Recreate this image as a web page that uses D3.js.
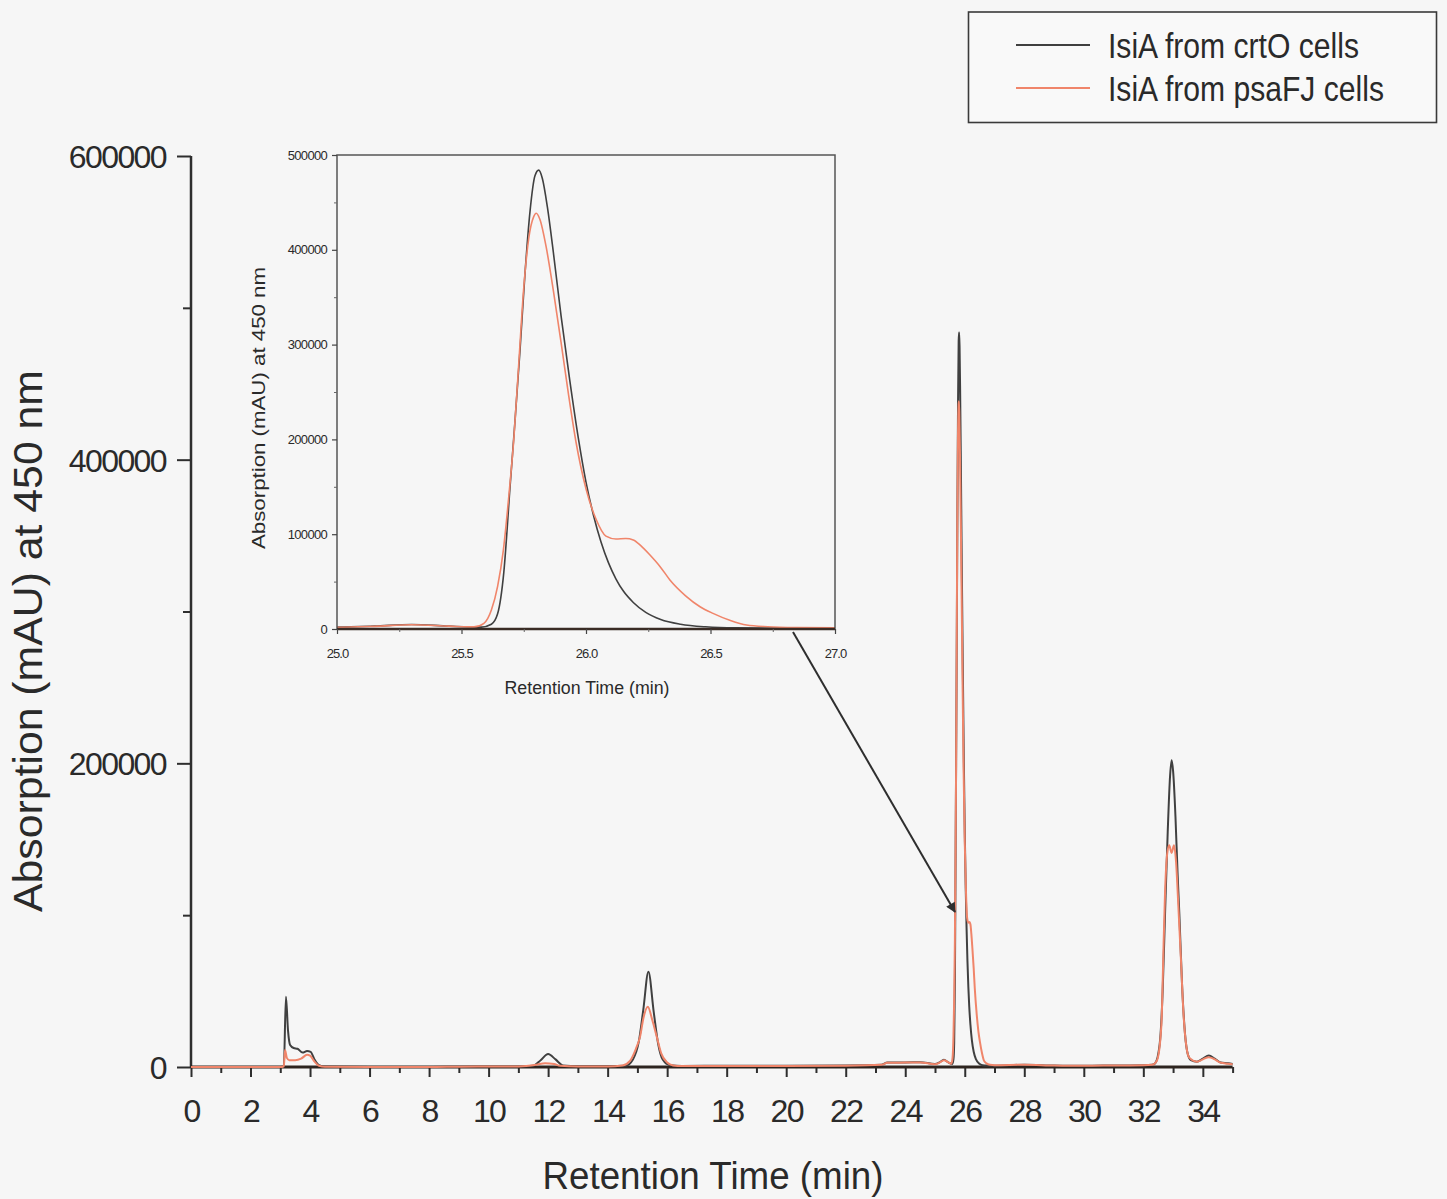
<!DOCTYPE html>
<html>
<head>
<meta charset="utf-8">
<script src="https://cdn.jsdelivr.net/npm/d3@7"></script>
<style>
  html, body { margin: 0; padding: 0; background: #f6f6f6; }
  svg { display: block; }
  text { font-family: "Liberation Sans", Arial, Helvetica, sans-serif; fill: #2a2a2a; }
</style>
</head>
<body>
<svg id="chart" width="1447" height="1199"></svg>
<script>
// HPLC traces, absorption at 450 nm, [retention time (min), mAU]
const crtO = [
  [0,0],[1,0],[2,0],[3,0],[3.12,500],[3.19,46300],[3.26,24000],[3.33,14500],[3.45,12500],
  [3.58,12000],[3.75,9500],[3.9,10500],[4.02,10000],[4.15,5000],[4.3,1200],[4.5,300],
  [6,0],[8,0],[9,200],[10,300],[11,400],[11.5,800],[11.75,4500],[12.0,8500],[12.25,5000],
  [12.5,1000],[13,500],[14,500],[14.6,800],[14.85,5000],[15.05,17000],[15.2,38000],
  [15.37,62800],[15.55,36000],[15.7,15000],[15.85,5000],[16.1,1200],[16.5,700],[18,800],
  [20,800],[22,1000],[23.2,1500],[23.4,3000],[24,3000],[24.5,3200],[25.0,2000],[25.15,3000],
  [25.3,4800],[25.45,3000],[25.58,2000],[25.62,5000],[25.645,16000],[25.67,60000],
  [25.695,150000],[25.715,220000],[25.735,294000],[25.755,375000],[25.775,440000],
  [25.795,478000],[25.81,484000],[25.825,475000],[25.845,445000],[25.87,395000],
  [25.9,330000],[25.935,262000],[25.97,200000],[26.0,155000],[26.03,120000],[26.06,92000],
  [26.09,70000],[26.12,53000],[26.15,40000],[26.19,28000],[26.24,17500],[26.3,10000],
  [26.38,5000],[26.48,2300],[26.6,1200],[26.8,1000],
  [27,900],[28,1500],[29,1000],[30,800],[31,1000],[32,1200],[32.3,1500],[32.4,2500],
  [32.55,15000],[32.65,50000],[32.73,101000],[32.82,155000],[32.9,192000],[32.95,202000],
  [33.0,195000],[33.08,165000],[33.15,128000],[33.21,101000],[33.3,55000],[33.4,22000],
  [33.5,8000],[33.6,4500],[33.8,3500],[34.0,5500],[34.2,7500],[34.4,5500],[34.6,3000],
  [34.85,2500],[35,2000]
];

const psaFJ = [
  [0,0],[1,0],[2,0],[3,0],[3.12,500],[3.16,11200],[3.22,6000],[3.3,4500],[3.5,4500],
  [3.7,5500],[3.9,8000],[4.0,7500],[4.15,3500],[4.3,800],[4.5,200],[6,0],[8,0],[9,200],
  [10,300],[11,400],[11.6,1500],[11.9,2500],[12.2,2000],[12.4,800],[13,400],[14,400],
  [14.5,1000],[14.75,4000],[14.95,12000],[15.09,20000],[15.2,32000],[15.35,39700],
  [15.5,31000],[15.65,20000],[15.8,9000],[16.0,3000],[16.2,1000],[16.5,600],[18,700],
  [20,700],[22,900],[23.2,1400],[23.4,2800],[24,2900],[24.5,3000],[25.0,1800],[25.15,2800],
  [25.3,4500],[25.45,3000],[25.55,2200],[25.59,6000],[25.62,20000],[25.645,45000],
  [25.668,83000],[25.69,140000],[25.71,200000],[25.73,280000],[25.75,360000],[25.77,412000],
  [25.79,435000],[25.80,438500],[25.815,432000],[25.84,403000],[25.87,355000],[25.9,302000],
  [25.93,247000],[25.96,197000],[26.0,148000],[26.04,116000],[26.08,98000],[26.12,95000],
  [26.16,95500],[26.19,94000],[26.22,88000],[26.257,78000],[26.3,65000],[26.337,51700],
  [26.4,35000],[26.458,23500],[26.51,16500],[26.58,9000],[26.645,4200],[26.73,2400],
  [26.85,1500],[27,1200],[28,1500],[29,1000],[30,800],[31,1000],[32,1200],[32.3,1500],
  [32.45,4000],[32.58,20000],[32.62,33000],[32.67,72500],[32.73,115000],[32.8,140000],
  [32.87,146000],[32.95,141000],[33.03,146000],[33.1,135000],[33.18,105000],[33.26,72500],
  [33.35,35000],[33.45,13000],[33.55,6000],[33.8,3500],[34.0,5000],[34.2,6500],[34.4,5000],
  [34.6,2800],[34.85,2200],[35,1800]
];

// axis ticks
const mainXMajor = d3.range(0, 35, 2);
const mainXMinor = d3.range(1, 36, 2);
const mainYMajor = [0, 200000, 400000, 600000];
const mainYMinor = [100000, 300000, 500000];
const insetXMajor = [25.0, 25.5, 26.0, 26.5, 27.0];
const insetXMinor = [25.25, 25.75, 26.25, 26.75];
const insetYMajor = [0, 100000, 200000, 300000, 400000, 500000];
const insetYMinor = [50000, 150000, 250000, 350000, 450000];

const seriesNames = ["IsiA from crtO cells", "IsiA from psaFJ cells"];
const seriesColors = ["#404040", "#f0856a"];

const svg = d3.select("#chart");
const ink = "#2e2e2e";

// ---------- main panel ----------
const x = d3.scaleLinear().domain([0, 35]).range([191, 1232.6]);
const y = d3.scaleLinear().domain([0, 600000]).range([1067, 156]);

const main = svg.append("g");

// y axis
const yAxis = main.append("g").attr("transform", `translate(${x(0)},0)`)
  .call(d3.axisLeft(y).tickValues(mainYMajor).tickSize(14).tickPadding(11).tickFormat(d3.format("d")));
yAxis.select(".domain").remove();
yAxis.selectAll("line").attr("stroke", ink).attr("stroke-width", 2);
yAxis.selectAll("text").attr("font-size", 32).attr("letter-spacing", -1.6).attr("fill", ink)
  .attr("dy", "0.36em");
const yMinor = main.append("g").attr("transform", `translate(${x(0)},0)`)
  .call(d3.axisLeft(y).tickValues(mainYMinor).tickSize(8).tickFormat(""));
yMinor.select(".domain").remove();
yMinor.selectAll("line").attr("stroke", ink).attr("stroke-width", 2);
main.append("line").attr("x1", x(0)).attr("x2", x(0)).attr("y1", y(600000)).attr("y2", y(0) + 1)
  .attr("stroke", ink).attr("stroke-width", 2.5);

// x axis
const xAxis = main.append("g").attr("transform", `translate(0,${y(0)})`)
  .call(d3.axisBottom(x).tickValues(mainXMajor).tickSize(10).tickPadding(22).tickFormat(d3.format("d")));
xAxis.select(".domain").remove();
xAxis.selectAll("line").attr("stroke", ink).attr("stroke-width", 2);
xAxis.selectAll("text").attr("font-size", 32).attr("letter-spacing", -1.6).attr("fill", ink)
  .attr("dy", "0.72em");
const xMinor = main.append("g").attr("transform", `translate(0,${y(0)})`)
  .call(d3.axisBottom(x).tickValues(mainXMinor).tickSize(6).tickFormat(""));
xMinor.select(".domain").remove();
xMinor.selectAll("line").attr("stroke", ink).attr("stroke-width", 2);
main.append("line").attr("x1", x(0)).attr("x2", x(35)).attr("y1", y(0)).attr("y2", y(0))
  .attr("stroke", "#2d241f").attr("stroke-width", 3);

// traces
const lineMain = d3.line().x(d => x(d[0])).y(d => y(d[1])).curve(d3.curveMonotoneX);
[crtO, psaFJ].forEach((s, i) => {
  main.append("path").datum(s).attr("d", lineMain).attr("fill", "none")
    .attr("stroke", seriesColors[i]).attr("stroke-width", 2).attr("stroke-linejoin", "round");
});

// axis titles
main.append("text").attr("transform", `translate(42,641) rotate(-90)`)
  .attr("text-anchor", "middle").attr("font-size", 40)
  .attr("textLength", 542).attr("lengthAdjust", "spacingAndGlyphs")
  .text("Absorption (mAU) at 450 nm");
main.append("text").attr("x", 713).attr("y", 1189).attr("text-anchor", "middle")
  .attr("font-size", 38).attr("textLength", 341).attr("lengthAdjust", "spacingAndGlyphs")
  .text("Retention Time (min)");

// ---------- inset: zoom on the 25.8 min peak ----------
const xi = d3.scaleLinear().domain([25, 27]).range([337, 835]);
const yi = d3.scaleLinear().domain([0, 500000]).range([629, 155]);
const inset = svg.append("g");

inset.append("clipPath").attr("id", "insetClip").append("rect")
  .attr("x", xi(25)).attr("y", yi(500000)).attr("width", xi(27) - xi(25)).attr("height", yi(0) - yi(500000));

const lineInset = d3.line().x(d => xi(d[0])).y(d => yi(d[1])).curve(d3.curveMonotoneX);
[crtO, psaFJ].forEach((s, i) => {
  inset.append("path").datum(s.filter(d => d[0] >= 24.5 && d[0] <= 27.5))
    .attr("clip-path", "url(#insetClip)")
    .attr("d", lineInset).attr("fill", "none")
    .attr("stroke", seriesColors[i]).attr("stroke-width", 1.6).attr("stroke-linejoin", "round");
});

inset.append("rect").attr("x", xi(25)).attr("y", yi(500000))
  .attr("width", xi(27) - xi(25)).attr("height", yi(0) - yi(500000))
  .attr("fill", "none").attr("stroke", "#555").attr("stroke-width", 1.5);
inset.append("line").attr("x1", xi(25)).attr("x2", xi(27)).attr("y1", yi(0)).attr("y2", yi(0))
  .attr("stroke", "#3a2c25").attr("stroke-width", 2.5);

const yiAxis = inset.append("g").attr("transform", `translate(${xi(25)},0)`)
  .call(d3.axisLeft(yi).tickValues(insetYMajor).tickSize(5).tickPadding(5).tickFormat(d3.format("d")));
yiAxis.select(".domain").remove();
yiAxis.selectAll("line").attr("stroke", "#444").attr("stroke-width", 1.2);
yiAxis.selectAll("text").attr("font-size", 13).attr("letter-spacing", -0.7).attr("fill", ink);
const yiMinor = inset.append("g").attr("transform", `translate(${xi(25)},0)`)
  .call(d3.axisLeft(yi).tickValues(insetYMinor).tickSize(3).tickFormat(""));
yiMinor.select(".domain").remove();
yiMinor.selectAll("line").attr("stroke", "#666").attr("stroke-width", 1);

const xiAxis = inset.append("g").attr("transform", `translate(0,${yi(0)})`)
  .call(d3.axisBottom(xi).tickValues(insetXMajor).tickSize(5).tickPadding(15).tickFormat(d3.format(".1f")));
xiAxis.select(".domain").remove();
xiAxis.selectAll("line").attr("stroke", "#444").attr("stroke-width", 1.2);
xiAxis.selectAll("text").attr("font-size", 13).attr("letter-spacing", -0.9).attr("fill", ink);
const xiMinor = inset.append("g").attr("transform", `translate(0,${yi(0)})`)
  .call(d3.axisBottom(xi).tickValues(insetXMinor).tickSize(3).tickFormat(""));
xiMinor.select(".domain").remove();
xiMinor.selectAll("line").attr("stroke", "#666").attr("stroke-width", 1);

inset.append("text").attr("transform", `translate(265,408) rotate(-90)`)
  .attr("text-anchor", "middle").attr("font-size", 18)
  .attr("textLength", 282).attr("lengthAdjust", "spacingAndGlyphs")
  .text("Absorption (mAU) at 450 nm");
inset.append("text").attr("x", 587).attr("y", 694).attr("text-anchor", "middle")
  .attr("font-size", 18).attr("textLength", 165).attr("lengthAdjust", "spacingAndGlyphs")
  .text("Retention Time (min)");

// pointer from the inset to the peak it enlarges
svg.append("defs").append("marker").attr("id", "arrowHead")
  .attr("viewBox", "0 0 10 10").attr("refX", 9).attr("refY", 5)
  .attr("markerWidth", 7).attr("markerHeight", 5).attr("markerUnits", "strokeWidth")
  .attr("orient", "auto")
  .append("path").attr("d", "M0,0 L10,5 L0,10 Z").attr("fill", "#2e2e2e");
svg.append("line").attr("x1", 793).attr("y1", 632).attr("x2", 955).attr("y2", 912)
  .attr("stroke", "#2e2e2e").attr("stroke-width", 2).attr("marker-end", "url(#arrowHead)");

// ---------- legend ----------
const legend = svg.append("g");
legend.append("rect").attr("x", 968.5).attr("y", 12).attr("width", 468).attr("height", 110.5)
  .attr("fill", "#f9f9f9").attr("stroke", "#3a3a3a").attr("stroke-width", 1.6);
const legendLen = [251, 276];
seriesNames.forEach((name, i) => {
  const ly = 45 + i * 43;
  legend.append("line").attr("x1", 1016).attr("x2", 1090).attr("y1", ly).attr("y2", ly)
    .attr("stroke", seriesColors[i]).attr("stroke-width", 2);
  legend.append("text").attr("x", 1108).attr("y", ly + 13).attr("font-size", 35)
    .attr("textLength", legendLen[i]).attr("lengthAdjust", "spacingAndGlyphs")
    .text(name);
});
</script>
</body>
</html>
